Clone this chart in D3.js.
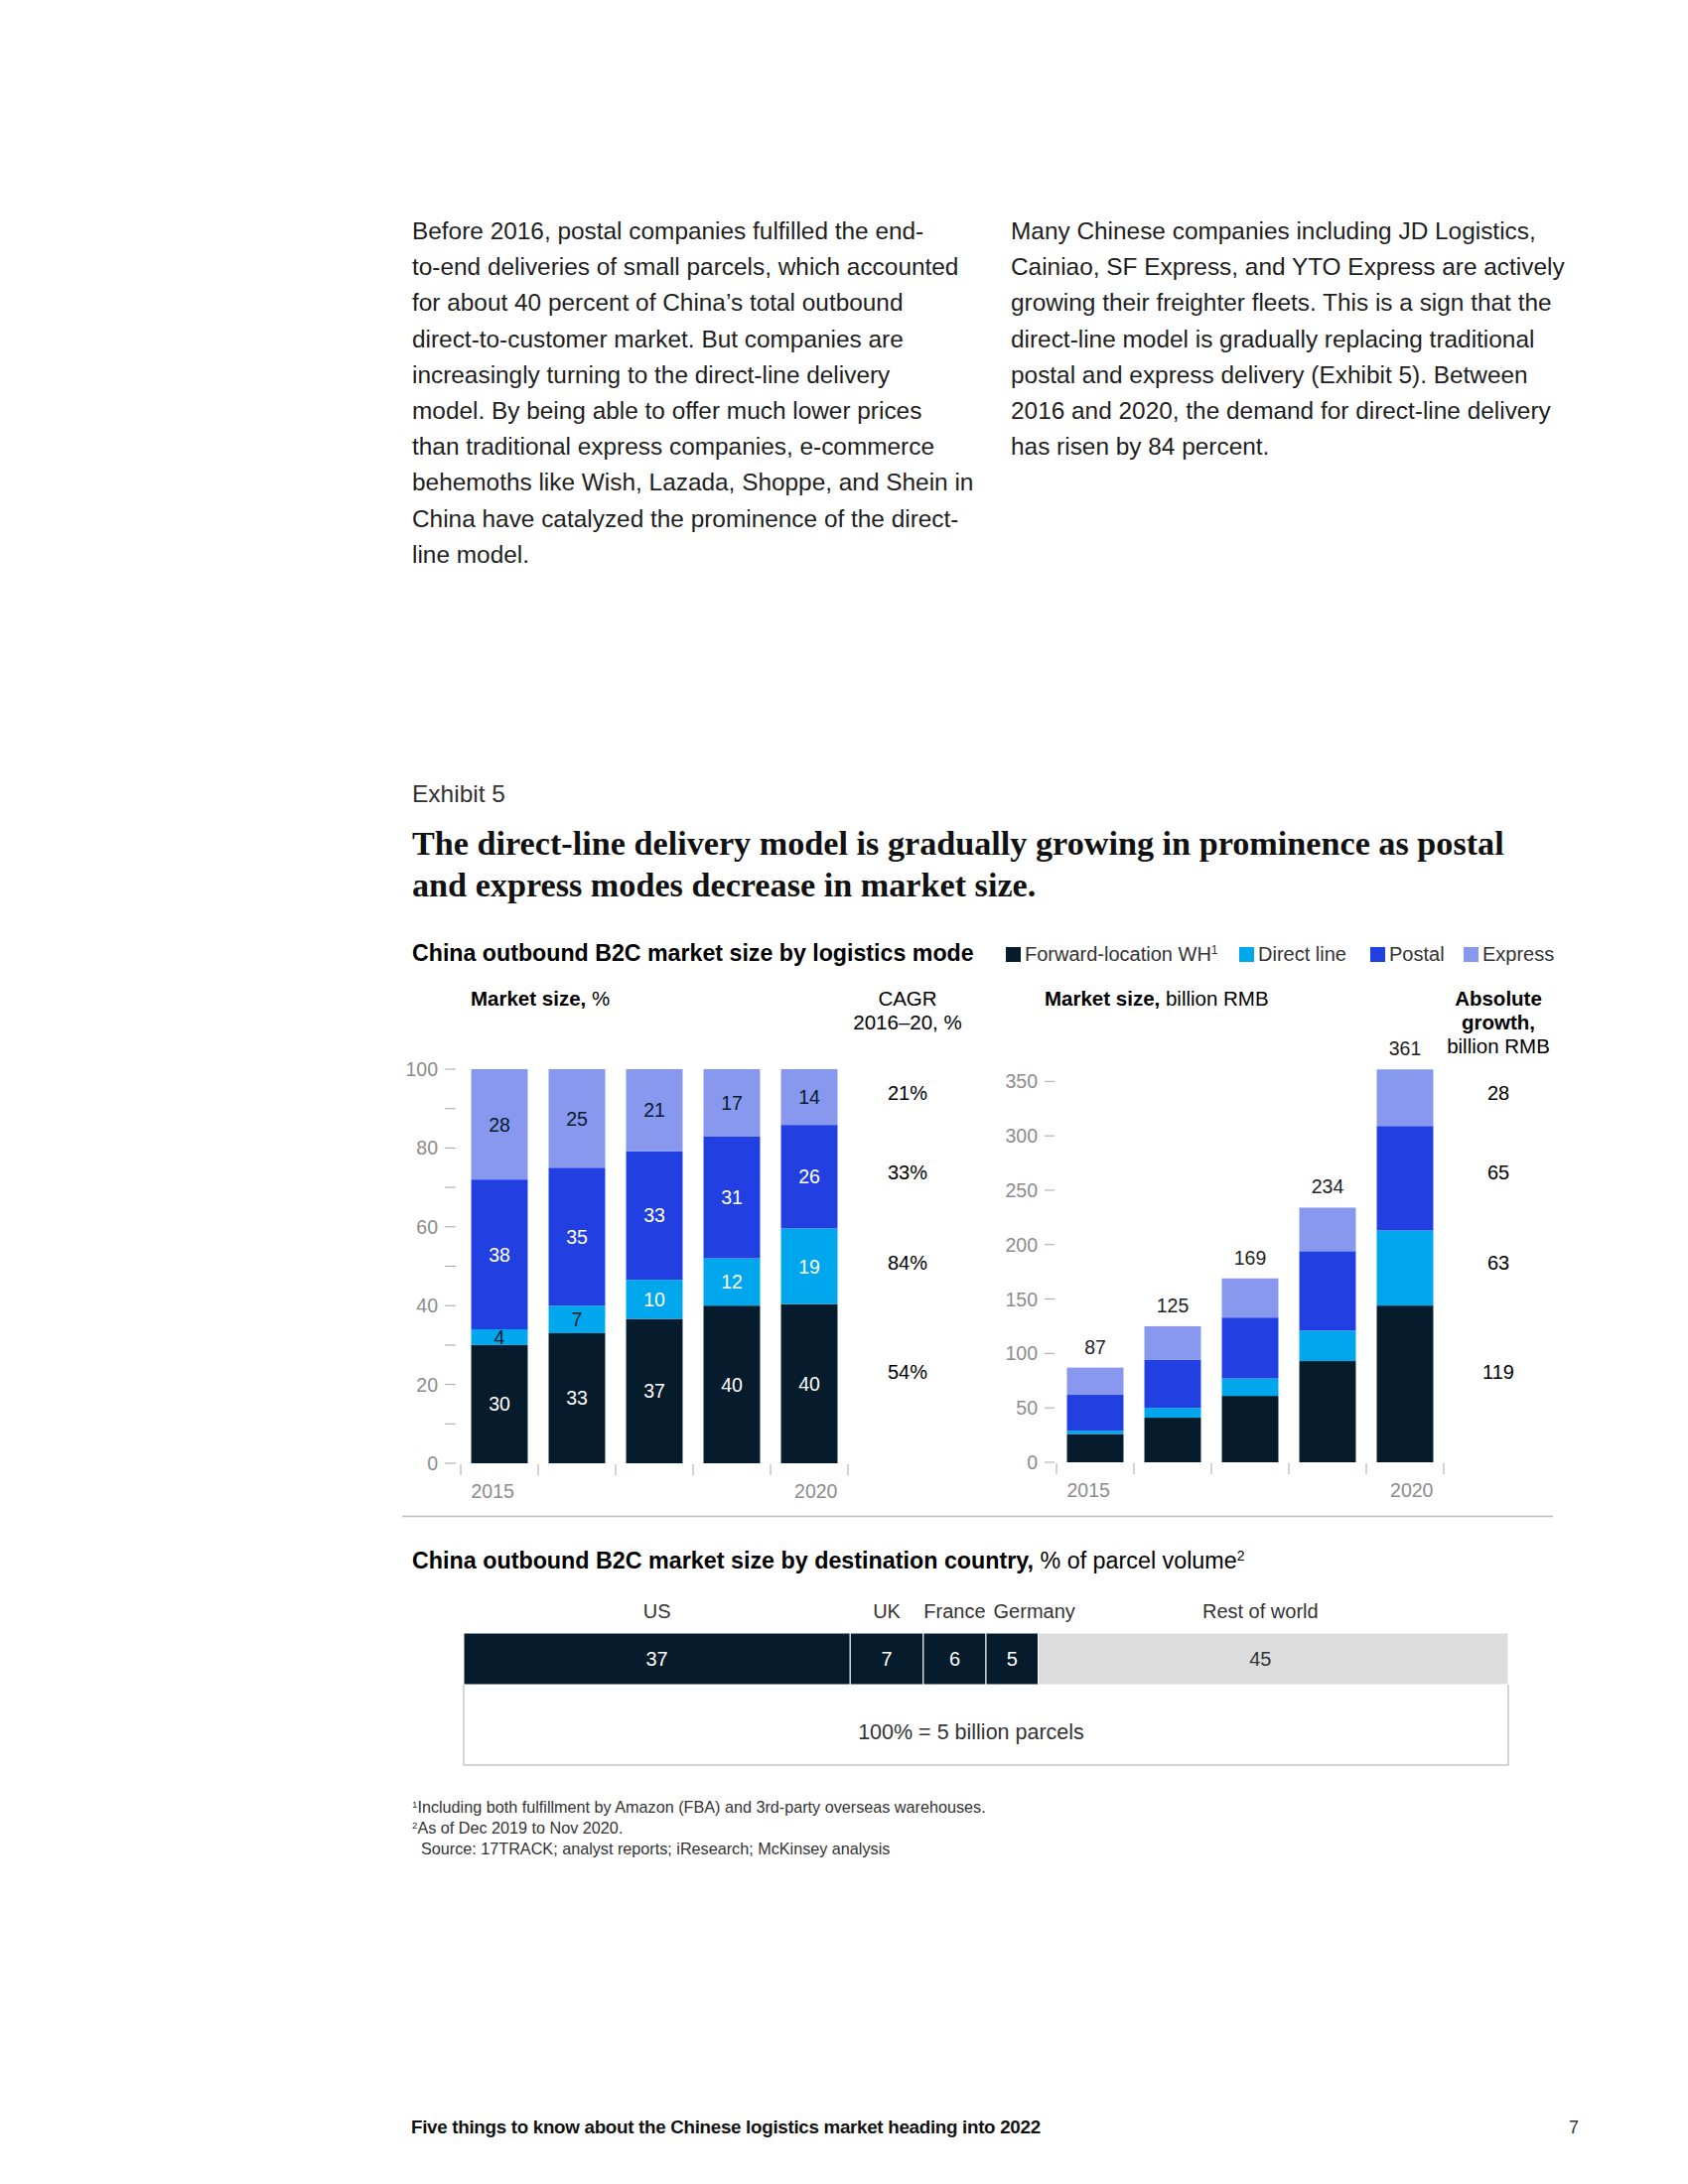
<!DOCTYPE html>
<html><head><meta charset="utf-8">
<script src="https://cdn.jsdelivr.net/npm/d3@7"></script>
<style>
body{margin:0;background:#fff}
svg{display:block;font-family:'Liberation Sans',Arial,sans-serif}
</style>
</head><body>
<svg id="c" width="1700" height="2200"></svg>
<script>
// ---------------- DATA ----------------
const categories = ["2015","2016","2017","2018","2020"];
const xTickLabels = ["2015","","","","2020"];
const seriesNames = ["Forward-location WH","Direct line","Postal","Express"];
const seriesColors = ["#061b2c","#00a7ec","#2240e2","#8798ee"];
// share of market, %
const fwdPct = [30,33,37,40,40];
const directPct = [4,7,10,12,19];
const postalPct = [38,35,33,31,26];
const expressPct = [28,25,21,17,14];
// market size, billion RMB (segments)
const fwdRMB = [26,41,61,93,144];
const directRMB = [3,9,16,28,69];
const postalRMB = [33,44,56,73,96];
const expressRMB = [25,31,36,40,52];
const totalRMB = [87,125,169,234,361];
// side annotations, order: fwd, direct, postal, express
const cagrLabels = ["54%","84%","33%","21%"];
const absGrowth = [119,63,65,28];
// axis ticks
const leftTicks = [0,20,40,60,80,100];
const leftMinorTicks = [10,30,50,70,90];
const rightTicks = [0,50,100,150,200,250,300,350];
// destination countries
const countries = ["US","UK","France","Germany","Rest of world"];
const countryShare = [37,7,6,5,45];

const paraLeft = [
 "Before 2016, postal companies fulfilled the end-",
 "to-end deliveries of small parcels, which accounted",
 "for about 40 percent of China’s total outbound",
 "direct-to-customer market. But companies are",
 "increasingly turning to the direct-line delivery",
 "model. By being able to offer much lower prices",
 "than traditional express companies, e-commerce",
 "behemoths like Wish, Lazada, Shoppe, and Shein in",
 "China have catalyzed the prominence of the direct-",
 "line model."];
const paraRight = [
 "Many Chinese companies including JD Logistics,",
 "Cainiao, SF Express, and YTO Express are actively",
 "growing their freighter fleets. This is a sign that the",
 "direct-line model is gradually replacing traditional",
 "postal and express delivery (Exhibit 5). Between",
 "2016 and 2020, the demand for direct-line delivery",
 "has risen by 84 percent."];

// ---------------- DRAW ----------------
const svg = d3.select("#c");
svg.append("rect").attr("width",1700).attr("height",2200).attr("fill","#fff");

function rich(x, y, parts, o={}) {
  const t = svg.append("text").attr("x",x).attr("y",y)
    .attr("font-size",o.size||19).attr("fill",o.fill||"#000")
    .attr("text-anchor",o.anchor||"start");
  if (o.ls) t.attr("letter-spacing",o.ls);
  if (o.family) t.style("font-family",o.family);
  if (o.weight) t.attr("font-weight",o.weight);
  parts.forEach(p=>{
    const s = t.append("tspan").text(p.t);
    if (p.b) s.attr("font-weight","bold");
    if (p.sup) s.attr("baseline-shift","super").attr("font-size",(o.size||19)*0.6);
    if (p.fill) s.attr("fill",p.fill);
  });
  return t;
}

// paragraphs
paraLeft.forEach((l,i)=>rich(415, 241+i*36.2, [{t:l}], {size:24.4, fill:"#1e1e1e"}));
paraRight.forEach((l,i)=>rich(1018, 241+i*36.2, [{t:l}], {size:24.4, fill:"#1e1e1e"}));

// exhibit heading
rich(415, 808, [{t:"Exhibit 5"}], {size:24.5, fill:"#333"});
const serif = "'Liberation Serif','Times New Roman',serif";
rich(415, 861, [{t:"The direct-line delivery model is gradually growing in prominence as postal"}], {size:34.2, fill:"#111", family:serif, weight:"bold"});
rich(415, 903, [{t:"and express modes decrease in market size."}], {size:34.2, fill:"#111", family:serif, weight:"bold"});

rich(415, 968, [{t:"China outbound B2C market size by logistics mode", b:true}], {size:23.2});

// legend
const legX = [1013,1248,1380,1474];
seriesNames.forEach((n,i)=>{
  svg.append("rect").attr("x",legX[i]).attr("y",954).attr("width",15).attr("height",15).attr("fill",seriesColors[i]);
  const parts = [{t:n}];
  if (i===0) parts.push({t:"1", sup:true});
  rich(legX[i]+19, 968, parts, {size:20, fill:"#333"});
});

// sub headers
const hs = 20.5;
rich(474, 1013, [{t:"Market size,", b:true},{t:" %"}], {size:hs});
rich(914, 1013, [{t:"CAGR"}], {size:hs, anchor:"middle"});
rich(914, 1037, [{t:"2016–20, %"}], {size:hs, anchor:"middle"});
rich(1052, 1013, [{t:"Market size,", b:true},{t:" billion RMB"}], {size:hs});
rich(1509, 1013, [{t:"Absolute", b:true}], {size:hs, anchor:"middle"});
rich(1509, 1037, [{t:"growth,", b:true}], {size:hs, anchor:"middle"});
rich(1509, 1061, [{t:"billion RMB"}], {size:hs, anchor:"middle"});

const keys = ["fwd","direct","postal","express"];
function rows(a,b,c,d){ return categories.map((cat,i)=>({cat, fwd:a[i], direct:b[i], postal:c[i], express:d[i]})); }

const axisGrey = "#a6a6a6";

function drawXAxis(x, baseY) {
  const bounds = categories.map(c=>x(c)-x.step()*x.paddingInner()/2);
  bounds.push(x(categories[categories.length-1])+x.bandwidth()+x.step()*x.paddingInner()/2);
  bounds.forEach(b=>svg.append("line").attr("x1",b).attr("x2",b).attr("y1",baseY+1).attr("y2",baseY+12).attr("stroke",axisGrey).attr("stroke-width",1));
  xTickLabels.forEach((l,i)=>{
    if(!l) return;
    const first = i===0;
    svg.append("text").attr("x", first? x(categories[i]) : x(categories[i])+x.bandwidth())
      .attr("y", baseY+35).attr("text-anchor", first?"start":"end")
      .attr("font-size",19.5).attr("fill","#8c8c8c").text(l);
  });
}

// ---- left chart (share %) ----
const xL = d3.scaleBand().domain(categories).range([464,854]).paddingInner(0.27).paddingOuter(0.135);
const yL = d3.scaleLinear().domain([0,100]).range([1474,1077]);
const stackL = d3.stack().keys(keys).offset(d3.stackOffsetExpand)(rows(fwdPct,directPct,postalPct,expressPct));
const pctArrays = [fwdPct,directPct,postalPct,expressPct];

stackL.forEach((s,k)=>{
  svg.append("g").selectAll("rect").data(s).join("rect")
    .attr("x",d=>xL(d.data.cat)).attr("width",xL.bandwidth())
    .attr("y",d=>yL(d[1]*100)).attr("height",d=>yL(d[0]*100)-yL(d[1]*100))
    .attr("fill",seriesColors[k]);
});
stackL.forEach((s,k)=>{
  svg.append("g").selectAll("text").data(s).join("text")
    .attr("x",d=>xL(d.data.cat)+xL.bandwidth()/2)
    .attr("y",d=>yL((d[0]+d[1])*50)+7)
    .attr("text-anchor","middle").attr("font-size",19.5)
    .attr("fill",(d,i)=>{ const v=pctArrays[k][i]; if(k===3) return "#061b2c"; if(k===1 && v<8) return "#061b2c"; return "#fff"; })
    .text((d,i)=>pctArrays[k][i]);
});
// y axis left
leftTicks.forEach(t=>{
  svg.append("text").attr("x",441).attr("y",yL(t)+7).attr("text-anchor","end").attr("font-size",19.5).attr("fill","#8c8c8c").text(t);
});
leftTicks.concat(leftMinorTicks).forEach(t=>{
  svg.append("line").attr("x1",448).attr("x2",459).attr("y1",yL(t)).attr("y2",yL(t)).attr("stroke",axisGrey);
});
drawXAxis(xL, 1474);
// CAGR labels next to last bar segments
const lastL = categories.length-1;
const sideY = k => { const d = stackL[k][lastL]; const m = yL((d[0]+d[1])*50); return k===0 ? m-8 : m; };
stackL.forEach((s,k)=>{
  svg.append("text").attr("x",914).attr("y",sideY(k)+3)
    .attr("text-anchor","middle").attr("font-size",20).attr("fill","#000").text(cagrLabels[k]);
});

// ---- right chart (billion RMB) ----
const xR = d3.scaleBand().domain(categories).range([1064,1454]).paddingInner(0.27).paddingOuter(0.135);
const yR = d3.scaleLinear().domain([0,350]).range([1473,1089.3]);
const stackR = d3.stack().keys(keys)(rows(fwdRMB,directRMB,postalRMB,expressRMB));
stackR.forEach((s,k)=>{
  svg.append("g").selectAll("rect").data(s).join("rect")
    .attr("x",d=>xR(d.data.cat)).attr("width",xR.bandwidth())
    .attr("y",d=>yR(d[1])).attr("height",d=>yR(d[0])-yR(d[1]))
    .attr("fill",seriesColors[k]);
});
svg.append("g").selectAll("text").data(categories).join("text")
  .attr("x",c=>xR(c)+xR.bandwidth()/2).attr("y",(c,i)=>yR(totalRMB[i])-14)
  .attr("text-anchor","middle").attr("font-size",19.5).attr("fill","#222").text((c,i)=>totalRMB[i]);
rightTicks.forEach(t=>{
  svg.append("text").attr("x",1045).attr("y",yR(t)+7).attr("text-anchor","end").attr("font-size",19.5).attr("fill","#8c8c8c").text(t);
  svg.append("line").attr("x1",1052).attr("x2",1062).attr("y1",yR(t)).attr("y2",yR(t)).attr("stroke",axisGrey);
});
drawXAxis(xR, 1473);
stackR.forEach((s,k)=>{
  svg.append("text").attr("x",1509).attr("y",sideY(k)+3)
    .attr("text-anchor","middle").attr("font-size",20).attr("fill","#000").text(absGrowth[k]);
});

// separator
svg.append("line").attr("x1",405).attr("x2",1564).attr("y1",1527.5).attr("y2",1527.5).attr("stroke","#bdbdbd").attr("stroke-width",1.5);

// ---- destination chart ----
rich(415, 1580, [{t:"China outbound B2C market size by destination country,", b:true},{t:" % of parcel volume"},{t:"2", sup:true}], {size:23.3});
const xC = d3.scaleLinear().domain([0,100]).range([467,1519]);
const cum = [0, ...d3.cumsum(countryShare)];
const isRest = i => i===countries.length-1;
svg.append("g").selectAll("rect").data(countries).join("rect")
  .attr("x",(c,i)=>xC(cum[i])).attr("width",(c,i)=>xC(cum[i+1])-xC(cum[i]))
  .attr("y",1645).attr("height",52)
  .attr("fill",(c,i)=>isRest(i)?"#dcdcdc":"#061b2c")
  .attr("stroke","#fff").attr("stroke-width",1);
const segCenter = i => isRest(i) ? (xC(cum[i])+xC(cum[i+1]))/2 - 13 : (xC(cum[i])+xC(cum[i+1]))/2;
svg.append("g").selectAll("text").data(countries).join("text")
  .attr("x",(c,i)=>segCenter(i)).attr("y",1678)
  .attr("text-anchor","middle").attr("font-size",20)
  .attr("fill",(c,i)=>isRest(i)?"#333":"#fff").text((c,i)=>countryShare[i]);
// country names with collision nudge
const nameNodes = [];
countries.forEach((c,i)=>{
  const t = svg.append("text").attr("x",segCenter(i)).attr("y",1630)
    .attr("text-anchor","middle").attr("font-size",20).attr("fill","#333").text(c);
  nameNodes.push(t);
});
let prevRight = -1e9;
nameNodes.forEach(t=>{
  const w = t.node().getComputedTextLength();
  let cx = +t.attr("x");
  if (cx - w/2 < prevRight + 8) { cx = prevRight + 8 + w/2; t.attr("x",cx); }
  prevRight = cx + w/2;
});
// total box
svg.append("path").attr("d",`M${xC(0)},1697V1778H${xC(100)}V1697`).attr("fill","none").attr("stroke","#c8c8c8").attr("stroke-width",1.5);
svg.append("text").attr("x",(xC(0)+xC(100))/2-15).attr("y",1752).attr("text-anchor","middle").attr("font-size",21.5).attr("fill","#333").text("100% = 5 billion parcels");

// footnotes
rich(415, 1826, [{t:"1", sup:true},{t:"Including both fulfillment by Amazon (FBA) and 3rd-party overseas warehouses."}], {size:16.2, fill:"#333"});
rich(415, 1847, [{t:"2", sup:true},{t:"As of Dec 2019 to Nov 2020."}], {size:16.2, fill:"#333"});
rich(424, 1868, [{t:"Source: 17TRACK; analyst reports; iResearch; McKinsey analysis"}], {size:16.2, fill:"#333"});

// footer
rich(414, 2149, [{t:"Five things to know about the Chinese logistics market heading into 2022", b:true}], {size:18.8, fill:"#111", ls:-0.3});
rich(1590, 2149, [{t:"7"}], {size:18, fill:"#333", anchor:"end"});
</script>
</body></html>
